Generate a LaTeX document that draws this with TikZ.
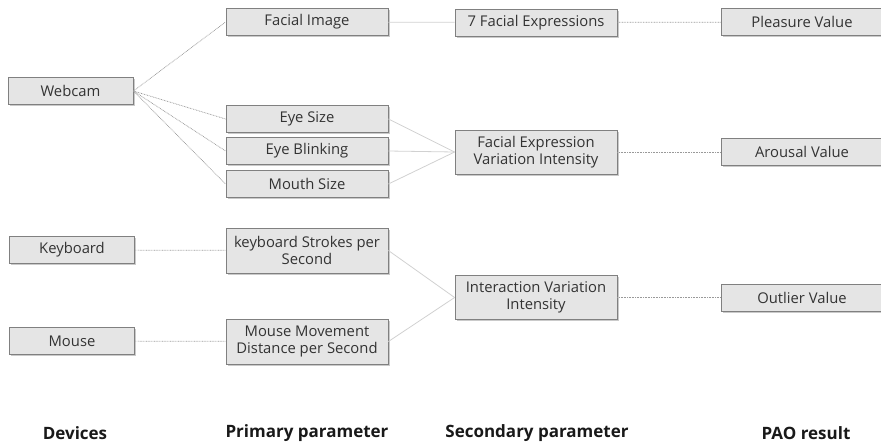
\documentclass[tikz,border=0pt]{standalone}
\usepackage{fontspec}
\setmainfont{Open Sans}
\usetikzlibrary{shadows}
\begin{document}
\begin{tikzpicture}[x=1pt,y=-1pt,
  box/.style={draw=black!50, line width=0.8pt, fill=black!10,
    minimum width=162pt, minimum height=#1, inner sep=1pt,
    align=center, font=\fontsize{14.8}{16.8}\selectfont, text=black!80,
    drop shadow={shadow xshift=1.5pt, shadow yshift=-1.5pt, opacity=0.35, fill=black!60}},
  box/.default=27pt,
  dev/.style={box, minimum width=125pt},
  dotlink/.style={draw=black!40, line width=0.7pt, dash pattern=on 0.8pt off 0.8pt},
  sollink/.style={draw=black!18, line width=0.8pt},
  head/.style={font=\fontsize{17}{20}\selectfont\bfseries, text=black!90}]
\useasboundingbox (0,0) rectangle (881,445);
\clip (0,0) rectangle (881,445);

% devices
\node[dev] (webcam) at (70.5,91) {Webcam};
\node[dev] (keyboard) at (72,250) {Keyboard};
\node[dev] (mouse) at (72,341) {Mouse};

% primary parameters
\node[box] (img) at (307,22) {Facial Image};
\node[box] (eye) at (307,119) {Eye Size};
\node[box] (blink) at (307,151) {Eye Blinking};
\node[box] (mouth) at (307,184) {Mouth Size};
\node[box=45pt] (keys) at (307,250.5) {keyboard Strokes per\\Second};
\node[box=45pt] (move) at (307,341.5) {Mouse Movement\\Distance per Second};

% secondary parameters
\node[box] (expr) at (536,22.5) {7 Facial Expressions};
\node[box=44pt] (fevi) at (536,152) {Facial Expression\\Variation Intensity};
\node[box=44pt] (ivi) at (536,297.5) {Interaction Variation\\Intensity};

% PAO results
\node[box] (pleasure) at (802,22) {Pleasure Value};
\node[box] (arousal) at (802,152) {Arousal Value};
\node[box] (outlier) at (802,297.5) {Outlier Value};

% column headings
\node[head] (h1) at (75,433) {Devices};
\node[head] (h2) at (307,433) {Primary parameter};
\node[head] (h3) at (537,433) {Secondary parameter};
\node[head] (h4) at (806,433) {PAO result};

% device to primary links
\foreach \t in {img,eye,blink,mouth}
  \draw[dotlink] (webcam.east) -- (\t.west);
\draw[dotlink] (keyboard) -- (keys);
\draw[dotlink] (mouse) -- (move);

% primary to secondary links
\draw[sollink] (img) -- (expr);
\foreach \s in {eye,blink,mouth}
  \draw[sollink] (\s.east) -- (fevi.west);
\draw[sollink] (keys.east) -- (ivi.west);
\draw[sollink] (move.east) -- (ivi.west);

% secondary to result links
\draw[dotlink] (expr) -- (pleasure);
\draw[dotlink] (fevi) -- (arousal);
\draw[dotlink] (ivi) -- (outlier);
\end{tikzpicture}
\end{document}
